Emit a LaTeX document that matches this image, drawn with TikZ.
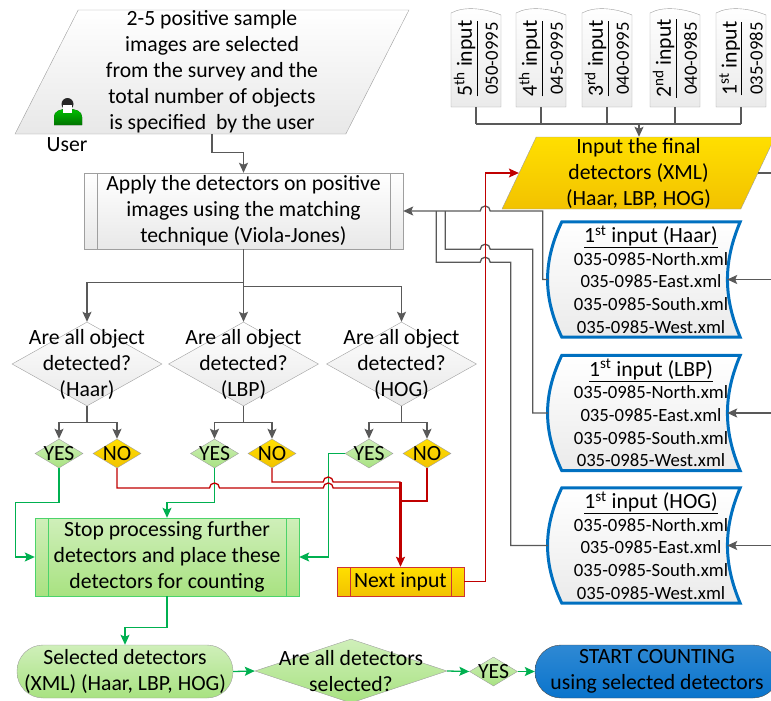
\documentclass[tikz,border=0pt]{standalone}
\usepackage{fontspec}
\setmainfont{Carlito}
\usetikzlibrary{shapes,arrows.meta,calc,backgrounds}

\definecolor{lineg}{HTML}{595959}
\definecolor{okgreen}{HTML}{00B050}
\definecolor{stopgreen}{HTML}{4CD36A}
\definecolor{nored}{HTML}{C00000}
\definecolor{xmlblue}{HTML}{0070C0}
\definecolor{gold}{HTML}{FFDF00}
\definecolor{golddark}{HTML}{F2C200}
\definecolor{lgreen}{HTML}{A8E281}
\definecolor{startblue}{HTML}{0A74CC}

\newcommand\bigfnt{\fontsize{21.7}{26}\selectfont}
\newcommand\xmlfnt{\fontsize{18.7}{22.7}\selectfont}

\tikzset{
  graybox/.style={draw=gray!75, top color=white, bottom color=gray!18},
  greenbox/.style={top color=lgreen!55!white, bottom color=lgreen},
  goldbox/.style={top color=gold, bottom color=golddark},
  subproc/.style={path picture={\draw[#1, line width=0.8pt]
      ([xshift=13pt]path picture bounding box.north west) -- ([xshift=13pt]path picture bounding box.south west)
      ([xshift=-13pt]path picture bounding box.north east) -- ([xshift=-13pt]path picture bounding box.south east);}},
  decision/.style={diamond, graybox, minimum width=150pt, minimum height=84pt},
  yesd/.style={diamond, draw=gray!75, greenbox, minimum width=48pt, minimum height=29pt, label={center:YES}},
  nod/.style={diamond, draw=gray!75, goldbox, minimum width=48pt, minimum height=29pt, label={center:NO}},
  xmlnode/.style={font=\xmlfnt, minimum width=178pt, minimum height=115pt},
  storebox/.style={draw=xmlblue, line width=3pt, top color=white, bottom color=gray!16},
  docbox/.style={draw=gray!75, top color=white, bottom color=gray!16},
  gline/.style={draw=lineg, line width=1.3pt},
  garrow/.style={gline, -{Stealth[length=10pt,width=9pt,inset=2pt]}},
  yline/.style={draw=okgreen, line width=1.3pt},
  yarrow/.style={yline, -{Stealth[length=10pt,width=9pt,inset=2pt]}},
  nline/.style={draw=nored, line width=1.3pt},
  narrow/.style={nline, -{Stealth[length=10pt,width=9pt,inset=2pt]}}
}

\begin{document}
\begin{tikzpicture}[x=1pt,y=-1pt,
    every node/.style={font=\bigfnt, align=center, inner sep=0pt}]
  \useasboundingbox (0,0) rectangle (771,701);

  % user input
  \node[trapezium, trapezium left angle=63, trapezium right angle=117, trapezium stretches body,
    graybox, text height=124pt, text depth=0pt, minimum width=394pt,
    label={center:2-5 positive sample\\images are selected\\from the survey and the\\total number of objects\\is specified\ \ by the user}] (user) at (212,72) {};
  \fill[top color=green!75!black, bottom color=green!45!black] (54,125) -- (54,117) .. controls (54,111) and (60,109) .. (68,109)
    .. controls (76,109) and (82,111) .. (82,117) -- (82,125) -- cycle;
  \fill[black!85] (67.5,104) circle[radius=6pt];
  \fill[white] (63,105) rectangle (72,113);
  \node (userlbl) at (67,145) {User};

  \node[rectangle, graybox, subproc=gray!75, minimum width=319pt, minimum height=76pt] (apply) at (243.5,211)
    {Apply the detectors on positive\\images using the matching\\technique (Viola-Jones)};

  % inputs
  \foreach \i/\x/\sfx/\cd in {5/476/th/050-0995, 4/541/th/045-0995, 3/607/rd/040-0995, 2/675/nd/040-0985, 1/741/st/035-0985}{
    \node[rotate=90, minimum width=97pt, minimum height=51pt] (in\i) at (\x,58.5)
      {\underline{\i\textsuperscript{\sfx} input}\\{\xmlfnt \cd}};
    \begin{pgfonlayer}{background}
      \draw[docbox] (\x-25,13) .. controls (\x-12,6) and (\x+8,8) .. (\x+25,15) -- (\x+25,107) -- (\x-25,107) -- cycle;
    \end{pgfonlayer}
  }
  \node[trapezium, trapezium left angle=64, trapezium right angle=116, trapezium stretches body,
    draw=gray!75, goldbox, minimum width=273pt, minimum height=72pt] (final) at (638.5,173)
    {Input the final\\detectors (XML)\\(Haar, LBP, HOG)};

  \node[xmlnode] (haar) at (651,279.5) {{\bigfnt\underline{1\textsuperscript{st} input (Haar)}}\\035-0985-North.xml\\035-0985-East.xml\\035-0985-South.xml\\035-0985-West.xml};
  \node[xmlnode] (lbp) at (651,413) {{\bigfnt\underline{1\textsuperscript{st} input (LBP)}}\\035-0985-North.xml\\035-0985-East.xml\\035-0985-South.xml\\035-0985-West.xml};
  \node[xmlnode] (hog) at (651,545.5) {{\bigfnt\underline{1\textsuperscript{st} input (HOG)}}\\035-0985-North.xml\\035-0985-East.xml\\035-0985-South.xml\\035-0985-West.xml};
  \begin{pgfonlayer}{background}
    \foreach \d in {haar,lbp,hog}
      \draw[storebox] (\d.north west) .. controls +(-19,40) and +(-19,-40) .. (\d.south west) -- (\d.south east)
        .. controls +(-17,-40) and +(-17,40) .. (\d.north east) -- cycle;
  \end{pgfonlayer}

  % decisions
  \node[decision, label={center:Are all object\\detected?\\(Haar)}] (dhaar) at (87,364) {};
  \node[decision, label={center:Are all object\\detected?\\(LBP)}] (dlbp) at (243.5,364) {};
  \node[decision, label={center:Are all object\\detected?\\(HOG)}] (dhog) at (401.5,364) {};
  \node[yesd] (yhaar) at (59,453.5) {};
  \node[nod] (nhaar) at (117,453.5) {};
  \node[yesd] (ylbp) at (214.5,453.5) {};
  \node[nod] (nlbp) at (272,453.5) {};
  \node[yesd] (yhog) at (369,453.5) {};
  \node[nod] (nhog) at (427,453.5) {};

  \node[rectangle, draw=stopgreen, greenbox, subproc=stopgreen, minimum width=264pt, minimum height=78pt] (stop) at (167,557)
    {Stop processing further\\detectors and place these\\detectors for counting};
  \node[rectangle, draw=nored!80, goldbox, subproc=nored!80, minimum width=127pt, minimum height=29pt] (next) at (400.5,581.5) {Next input};

  \node[rectangle, rounded corners=26pt, draw=gray!75, greenbox, minimum width=216pt, minimum height=53pt] (sel) at (125,671.5)
    {Selected detectors\\(XML) (Haar, LBP, HOG)};
  \node[diamond, draw=gray!75, greenbox, minimum width=192pt, minimum height=64pt,
    label={center:Are all detectors\\selected?}] (dall) at (351,671) {};
  \node[yesd] (yall) at (493.5,671.5) {};
  \node[rectangle, rounded corners=26pt, draw=black!70, top color=startblue!85!white, bottom color=startblue,
    minimum width=244pt, minimum height=53pt] (start) at (657,671.5) {START COUNTING\\using selected detectors};

  % connectors
  \coordinate (edge) at (771,0);
  \coordinate (bus) at (639,124);
  \coordinate (rv) at ([xshift=21pt]next.east);
  \coordinate (gv) at ([xshift=29pt]stop.east);
  \coordinate (rA) at (400.5,488);
  \coordinate (rB) at (400.5,482);
  \coordinate (rC) at (400.5,501);

  \draw[garrow] (user.south) -- ++(0,18) -| (apply.north);
  \foreach \i in {1,...,5} \draw[gline] (in\i.west) -- (in\i.west |- bus);
  \draw[gline] (in5.west |- bus) -- (in1.west |- bus);
  \draw[garrow] (bus) -- (bus |- final.north);
  \draw[gline] (final.east) -- (final.east -| edge);
  \foreach \d in {haar,lbp,hog} \draw[garrow] (\d.east -| edge) -- ([xshift=-13pt]\d.east);

  \draw[garrow] ([xshift=-14pt]haar.west) -| ($(haar.west |- apply.east)+(-19,0)$) -- ($(rv |- apply.east)+(5,0)$)
    arc[start angle=0, end angle=180, radius=5pt] -- (apply.east);
  \draw[gline] ([xshift=-14pt]lbp.west) -| ($(haar.west |- apply.south)+(-29,0)$) -- ($(rv |- apply.south)+(5,0)$)
    arc[start angle=0, end angle=180, radius=5pt] -- ($(apply.south east)+(42,0)$) -- ($(apply.east)+(42,0)$);
  \draw[gline] ([xshift=-14pt]hog.west) -| ($(haar.west |- apply.south)+(-51,13)$) -- ($(rv |- apply.south)+(5,13)$)
    arc[start angle=0, end angle=180, radius=5pt] -- ($(apply.south east)+(33,13)$) -- ($(apply.east)+(33,0)$);

  \draw[garrow] (apply.south) -- (dlbp.north);
  \draw[garrow] (apply.south) -- ++(0,33) -| (dhaar.north);
  \draw[garrow] (apply.south) -- ++(0,37) -| (dhog.north);
  \foreach \d/\y/\n in {dhaar/yhaar/nhaar, dlbp/ylbp/nlbp, dhog/yhog/nhog}{
    \draw[garrow] (\d.south) -- ++(0,16) -| (\y.north);
    \draw[garrow] (\d.south) -- ++(0,16) -| (\n.north);
  }

  \draw[yarrow] (yhaar.south) -- ++(0,34) -| ([xshift=-19pt]stop.west) -- (stop.west);
  \draw[yarrow] (ylbp.south) -- ++(0,34) -| (stop.north);
  \draw[yarrow] (yhog.west) -| (gv) -- (stop.east);

  \draw[nline] (nhaar.south) |- ($(ylbp.south |- rA)+(-5,0)$) arc[start angle=180, end angle=0, radius=5pt]
    -- ($(gv |- rA)+(-5,0)$) arc[start angle=180, end angle=0, radius=5pt] -- (rA);
  \draw[nline] (nlbp.south) |- ($(gv |- rB)+(-5,0)$) arc[start angle=180, end angle=0, radius=5pt] -- (rB);
  \draw[nline] (nhog.south) |- (rC);
  \draw[narrow, line width=2.4pt] (rB) -- (next.north);
  \draw[narrow] (next.east) -- (rv) |- (final.west);

  \draw[yarrow] (stop.south) -- ++(0,31) -| (sel.north);
  \draw[yarrow] (sel.east) -- (dall.west);
  \draw[yarrow] (dall.east) -- (yall.west);
  \draw[yarrow] (yall.east) -- (start.west);
\end{tikzpicture}
\end{document}
